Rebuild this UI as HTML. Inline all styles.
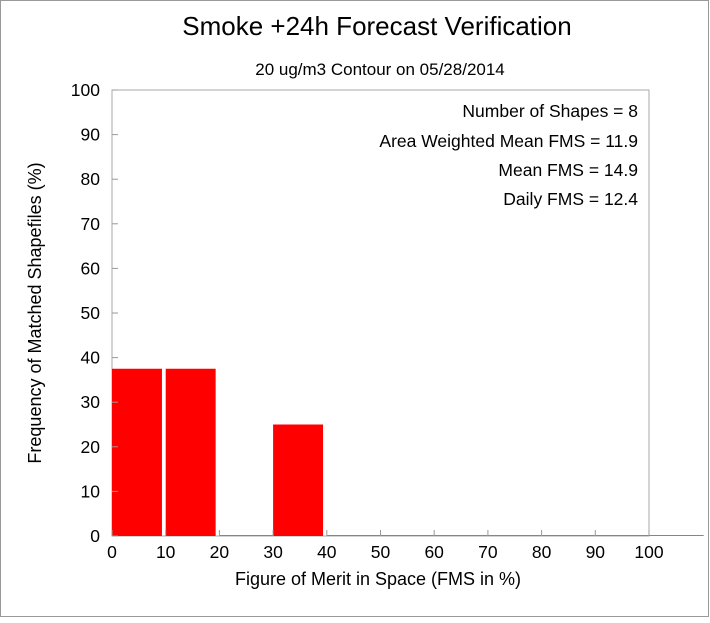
<!DOCTYPE html>
<html><head><meta charset="utf-8"><style>
body{margin:0;background:#fff;font-family:"Liberation Sans",sans-serif}
svg text{font-family:"Liberation Sans",sans-serif;fill:#000}
</style></head><body>
<svg id="c" width="710" height="618" xmlns="http://www.w3.org/2000/svg">
<rect x="0.5" y="0.5" width="708" height="616" fill="#fff" stroke="#999"/>
<text x="377" y="35" font-size="26" text-anchor="middle">Smoke +24h Forecast Verification</text>
<text x="380" y="75" font-size="17" text-anchor="middle">20 ug/m3 Contour on 05/28/2014</text>
<rect x="112" y="90" width="537" height="446" fill="none" stroke="#aaa"/>
<g id="bars"></g><g id="ticks"></g>
<g font-size="17.5">
<text x="638" y="117" text-anchor="end">Number of Shapes = 8</text>
<text x="638" y="147" text-anchor="end">Area Weighted Mean FMS = 11.9</text>
<text x="638" y="176" text-anchor="end">Mean FMS = 14.9</text>
<text x="638" y="205" text-anchor="end">Daily FMS = 12.4</text>
</g>
<text x="378" y="585" font-size="18" text-anchor="middle">Figure of Merit in Space (FMS in %)</text>
<text transform="translate(41,313) rotate(-90)" font-size="18" text-anchor="middle">Frequency of Matched Shapefiles (%)</text>
</svg>
<script>
const binStarts=[0,10,20,30,40,50,60,70,80,90,100];
const freqs=[37.5,37.5,0,25,0,0,0,0,0,0,0];
const xTicks=[0,10,20,30,40,50,60,70,80,90,100];
const yTicks=[0,10,20,30,40,50,60,70,80,90,100];
const binWidth=9.3;
const NS="http://www.w3.org/2000/svg";
const X=v=>112+v*5.37, Y=v=>536-v*4.46;
const bars=document.getElementById('bars'), tk=document.getElementById('ticks');
binStarts.forEach((b,i)=>{
  const r=document.createElementNS(NS,'rect');
  const h=Math.max(Y(0)-Y(freqs[i]),1);
  r.setAttribute('x',X(b));r.setAttribute('y',Y(0)-h);
  r.setAttribute('width',X(b+binWidth)-X(b)+(freqs[i]?0:5.37*0.7+1));r.setAttribute('height',h);
  r.setAttribute('fill',freqs[i]?'#ff0000':'#e06060');
  
  
  bars.appendChild(r);
});
xTicks.forEach(v=>{
  const l=document.createElementNS(NS,'line');
  l.setAttribute('x1',X(v));l.setAttribute('x2',X(v));l.setAttribute('y1',536);l.setAttribute('y2',530);
  l.setAttribute('stroke','#999');
  
  
  tk.appendChild(l);
  const t=document.createElementNS(NS,'text');
  t.setAttribute('x',X(v));t.setAttribute('y',558);t.setAttribute('font-size','17.5');t.setAttribute('text-anchor','middle');
  t.textContent=v;
  
  
  tk.appendChild(t);
});
yTicks.forEach(v=>{
  const l=document.createElementNS(NS,'line');
  l.setAttribute('x1',112);l.setAttribute('x2',118);l.setAttribute('y1',Y(v));l.setAttribute('y2',Y(v));
  l.setAttribute('stroke','#999');
  
  
  tk.appendChild(l);
  const t=document.createElementNS(NS,'text');
  t.setAttribute('x',100);t.setAttribute('y',Y(v)+6);t.setAttribute('font-size','17.5');t.setAttribute('text-anchor','end');
  t.textContent=v;
  
  
  tk.appendChild(t);
});
</script>
</body></html>
